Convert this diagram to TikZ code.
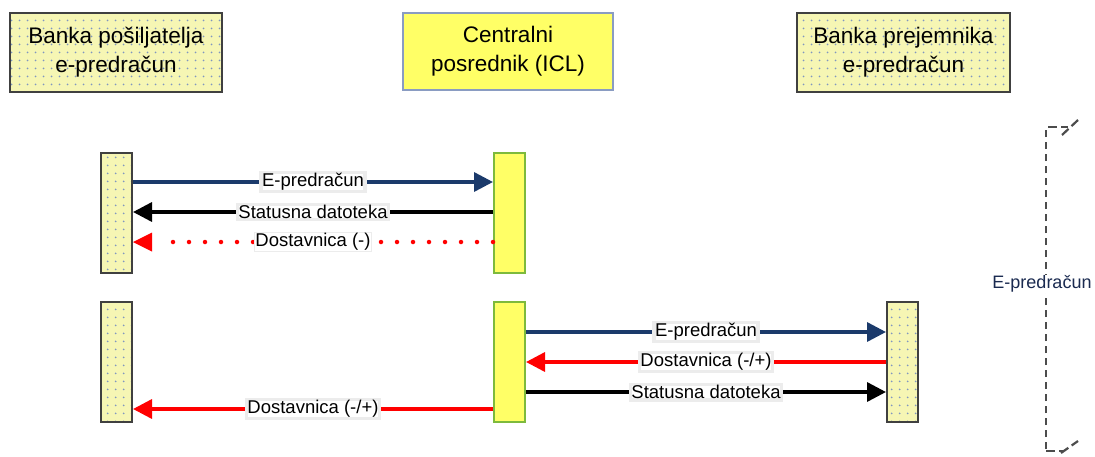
\documentclass[tikz,border=0pt]{standalone}
\usepackage{fontspec}
\setmainfont{Liberation Sans}
\usetikzlibrary{arrows.meta,patterns.meta,calc}
\definecolor{paley}{HTML}{F6F6B4}
\definecolor{brighty}{HTML}{FFFF66}
\definecolor{dotc}{HTML}{7F96C0}
\definecolor{navy}{HTML}{1B3A6B}
\definecolor{hborder}{HTML}{404040}
\definecolor{cborder}{HTML}{8A9CC2}
\definecolor{gborder}{HTML}{7DBA3C}
\definecolor{txtnavy}{HTML}{1A2A50}
\tikzdeclarepattern{
  name=ydots,
  type=uncolored,
  bounding box={(0,0) and (8pt,8pt)},
  tile size={(8pt,8pt)},
  code={\fill (4pt,4pt) circle (1.05pt);}
}
\begin{document}
\begin{tikzpicture}[x=1pt,y=-1pt,
  hdrfont/.style={font=\fontsize{22.5}{29}\selectfont},
  dotted box/.style={draw=hborder, line width=2pt, preaction={fill=paley},
    pattern=ydots, pattern color=dotc},
  header/.style={hdrfont, align=center, inner sep=0pt,
    minimum width=#1, minimum height=79pt},
  lifeline/.style={minimum width=31pt, minimum height=120pt, inner sep=0pt},
  central/.style={draw=gborder, line width=2pt, fill=brighty},
  lbl/.style={fill=white, draw=gray!15, inner sep=1pt,
    font=\fontsize{18.5}{21}\selectfont, text=black},
  msg/.style={line width=3.4pt, -{Triangle[length=19pt,width=19pt]}},
  bluemsg/.style={msg, draw=navy, color=navy},
  blackmsg/.style={msg, draw=black, color=black},
  redmsg/.style={msg, draw=red, color=red},
  reddotted/.style={line width=4.5pt, draw=red,
    dash pattern=on 0pt off 16pt, line cap=round},
  bracket/.style={draw=gray!60!black, line width=2.2pt, dash pattern=on 7pt off 5pt}
]
\useasboundingbox (0,0) rectangle (1095,456);

% headers
\node[header=212pt, dotted box] (hl) at (116,52.5) {Banka pošiljatelja\\e-predračun};
\node[header=210pt, draw=cborder, line width=2pt, fill=brighty, minimum height=77pt] (hc) at (508,51.5) {Centralni\\posrednik (ICL)};
\node[header=213pt, dotted box] (hr) at (903.5,52.5) {Banka prejemnika\\e-predračun};

% lifeline boxes
\node[lifeline, dotted box] (l1) at (116.5,213) {};
\node[lifeline, central] (c1) at (509.5,213) {};
\node[lifeline, dotted box] (l2) at (116.5,362) {};
\node[lifeline, central] (c2) at (509.5,362) {};
\node[lifeline, dotted box] (r2) at (902.5,362) {};

% message levels
\coordinate (ya) at (0,182);
\coordinate (yb) at (0,212);
\coordinate (yc) at (0,242);
\coordinate (yd) at (0,332);
\coordinate (ye) at (0,362);
\coordinate (yf) at (0,392);
\coordinate (yg) at (0,409);

% top group
\draw[bluemsg] (l1.east |- ya) -- node[lbl]{E-predračun} (c1.west |- ya);
\draw[blackmsg] (c1.west |- yb) -- node[lbl]{Statusna datoteka} (l1.east |- yb);
\draw[reddotted] (c1.west |- yc) -- ([xshift=28pt]l1.east |- yc);
\fill[red] (l1.east |- yc) -- ++(19,-9.5) -- ++(0,19) -- cycle;
\node[lbl] (dlbl) at ($(l1.east |- yc)!0.5!(c1.west |- yc)$) {Dostavnica (-)};

% bottom group
\draw[bluemsg] (c2.east |- yd) -- node[lbl]{E-predračun} (r2.west |- yd);
\draw[redmsg] (r2.west |- ye) -- node[lbl]{Dostavnica (-/+)} (c2.east |- ye);
\draw[blackmsg] (c2.east |- yf) -- node[lbl]{Statusna datoteka} (r2.west |- yf);
\draw[redmsg] (c2.west |- yg) -- node[lbl]{Dostavnica (-/+)} (l2.east |- yg);

% right dashed bracket
\coordinate (bt) at (1046,130);
\coordinate (bb) at (1046,449);
\draw[bracket] (bb) -- (bt);
\draw[bracket, dash pattern=on 9pt off 4pt] (1048,127) -- (1068,127);
\draw[bracket, dash pattern=on 9pt off 4pt] (1062,135) -- (1078,120);
\draw[bracket, dash pattern=on 9pt off 4pt] (1046,451) -- (1063,451);
\draw[bracket, dash pattern=on 9pt off 4pt] (1061,453) -- (1078,441);
\node[fill=white, inner sep=1pt, text=txtnavy, font=\fontsize{18}{20}\selectfont] (brl) at (1042,284) {E-predračun};
\end{tikzpicture}
\end{document}
